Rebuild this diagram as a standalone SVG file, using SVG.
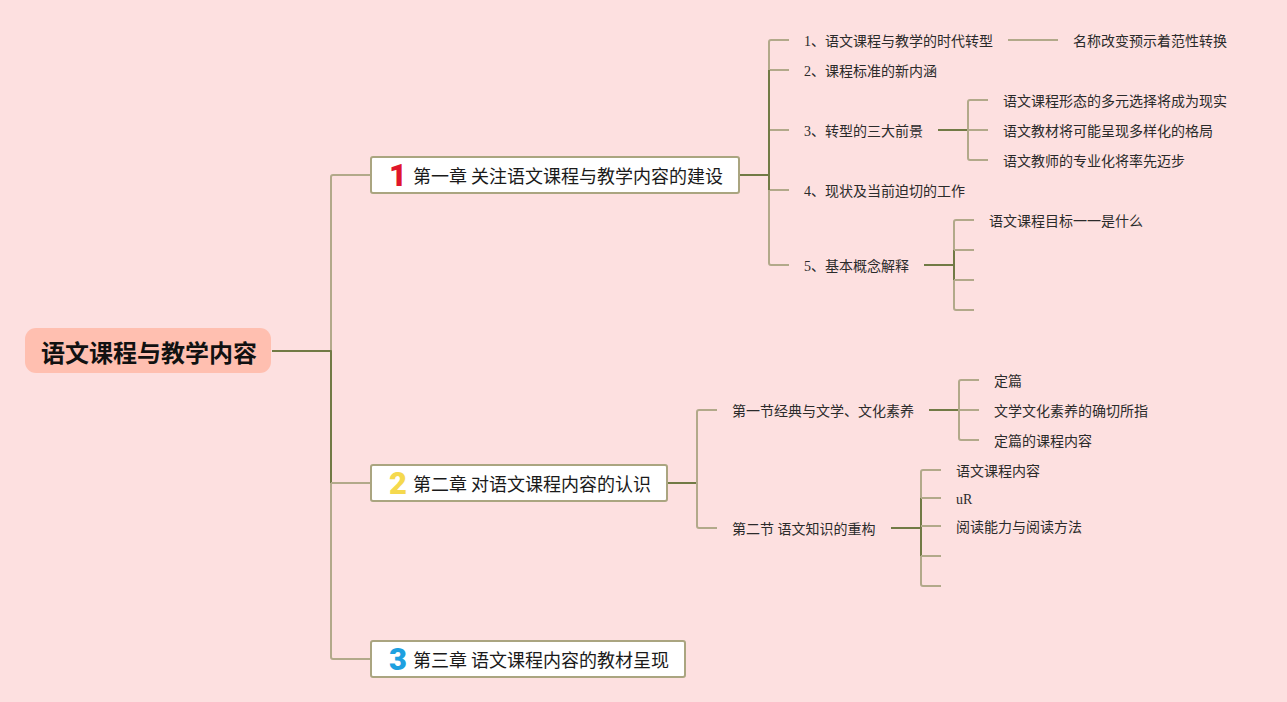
<svg xmlns="http://www.w3.org/2000/svg" width="1287" height="702" viewBox="0 0 1287 702">
<style>
text{font-family:"Liberation Serif","Noto Sans CJK SC",sans-serif;font-size:14px;fill:#2b2b2b}
.b{font-size:18px;fill:#1a1a1a;font-family:"Noto Sans CJK SC",sans-serif}
.r{font-size:24px;font-weight:700;fill:#111;font-family:"Noto Sans CJK SC",sans-serif}
.n{font-size:31px;font-weight:900;font-family:"Roboto","Noto Sans",sans-serif;text-anchor:middle}
.card{fill:#fff;stroke:#aaa580;stroke-width:2}
#connectors path{fill:none;stroke-linejoin:round}
.l{stroke:#b2a98a;stroke-width:2}
.d{stroke:#717a45;stroke-width:2}
</style>
<rect width="1287" height="702" fill="#fde0e0"/>
<g id="connectors">
<path class="l" d="M371 175H333Q331 175 331 177V351"/>
<path class="d" d="M272 351H331V483"/>
<path class="l" d="M371 483H331M331 483V657Q331 659 333 659H371"/>
<path class="d" d="M740 175H769"/>
<path class="l" d="M789 40H771Q769 40 769 42V70M769 190V263Q769 265 771 265H789M769 70H789M769 130H789M769 190H789"/>
<path class="d" d="M769 70V190"/>
<path class="l" d="M1008 40H1058"/>
<path class="d" d="M938 130H968"/>
<path class="l" d="M988 100H970Q968 100 968 102V158Q968 160 970 160H988M968 130H988"/>
<path class="d" d="M924 265H954M954 250V280"/>
<path class="l" d="M974 220H956Q954 220 954 222V250M954 280V308Q954 310 956 310H974M954 250H974M954 280H974"/>
<path class="d" d="M667 483H697"/>
<path class="l" d="M717 410H699Q697 410 697 412V526Q697 528 699 528H717"/>
<path class="d" d="M929 410H959"/>
<path class="l" d="M979 380H961Q959 380 959 382V438Q959 440 961 440H979M959 410H979"/>
<path class="d" d="M891 528H921M921 498V556"/>
<path class="l" d="M941 470H923Q921 470 921 472V498M921 556V584Q921 586 923 586H941M921 498H941M921 526H941M921 556H941"/>
</g>
<g id="root"><rect x="25" y="328" width="246" height="45" rx="11" fill="#ffbfb0"/><text class="r" x="41" y="362">语文课程与教学内容</text></g>
<g id="ch1"><rect class="card" x="371" y="157" width="368" height="36" rx="2"/><text class="n" x="398" y="186" style="fill:#e0162b">1</text><text class="b" x="413" y="183">第一章 关注语文课程与教学内容的建设</text></g>
<g id="ch2"><rect class="card" x="371" y="465" width="296" height="36" rx="2"/><text class="n" x="398" y="494" style="fill:#f5d94e">2</text><text class="b" x="413" y="491">第二章 对语文课程内容的认识</text></g>
<g id="ch3"><rect class="card" x="371" y="641" width="314" height="36" rx="2"/><text class="n" x="398" y="670" style="fill:#1ea0e0">3</text><text class="b" x="413" y="667">第三章 语文课程内容的教材呈现</text></g>
<g id="n1"><text x="804" y="46">1、语文课程与教学的时代转型</text></g>
<g id="n1a"><text x="1073" y="46">名称改变预示着范性转换</text></g>
<g id="n2"><text x="804" y="76">2、课程标准的新内涵</text></g>
<g id="n3"><text x="804" y="136">3、转型的三大前景</text></g>
<g id="n3a"><text x="1003" y="106">语文课程形态的多元选择将成为现实</text></g>
<g id="n3b"><text x="1003" y="136">语文教材将可能呈现多样化的格局</text></g>
<g id="n3c"><text x="1003" y="166">语文教师的专业化将率先迈步</text></g>
<g id="n4"><text x="804" y="196">4、现状及当前迫切的工作</text></g>
<g id="n5"><text x="804" y="271">5、基本概念解释</text></g>
<g id="n5a"><text x="989" y="226">语文课程目标一一是什么</text></g>
<g id="s1"><text x="732" y="416">第一节经典与文学、文化素养</text></g>
<g id="s1a"><text x="994" y="386">定篇</text></g>
<g id="s1b"><text x="994" y="416">文学文化素养的确切所指</text></g>
<g id="s1c"><text x="994" y="446">定篇的课程内容</text></g>
<g id="s2"><text x="732" y="534">第二节 语文知识的重构</text></g>
<g id="s2a"><text x="956" y="476">语文课程内容</text></g>
<g id="s2b"><text x="956" y="504">uR</text></g>
<g id="s2c"><text x="956" y="532">阅读能力与阅读方法</text></g>
</svg>
